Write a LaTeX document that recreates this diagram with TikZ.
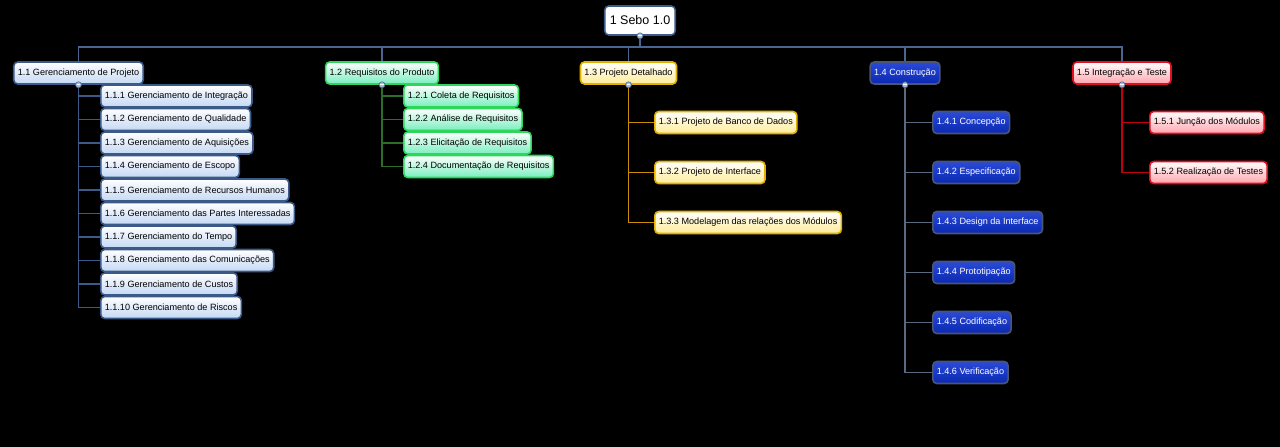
\documentclass[tikz,border=0pt]{standalone}
\usepackage{fontspec}
\setmainfont{Liberation Sans}
\usepackage{tikz}
\definecolor{busline}{HTML}{4A6590}
\definecolor{gborder}{HTML}{3C5A88}
\definecolor{gfill}{HTML}{C4D8F4}
\definecolor{rborder}{HTML}{2ED65A}
\definecolor{rfill}{HTML}{78EEBE}
\definecolor{rline}{HTML}{2A6E2A}
\definecolor{dborder}{HTML}{E2B000}
\definecolor{dfill}{HTML}{FFEC98}
\definecolor{dline}{HTML}{C89000}
\definecolor{cborder}{HTML}{4A5672}
\definecolor{ctop}{HTML}{2A4AD8}
\definecolor{cbottom}{HTML}{0A28B0}
\definecolor{cline}{HTML}{5A6A80}
\definecolor{tborder}{HTML}{E01020}
\definecolor{tfill}{HTML}{FFA6AE}
\definecolor{tline}{HTML}{C00010}
\definecolor{knobfill}{HTML}{A8BCD8}
\begin{document}
\begin{tikzpicture}[x=1pt,y=-1pt]
		\tikzstyle{every node}+=[inner sep=0pt, font=\fontsize{9.1}{11}\selectfont]
		\tikzstyle{box}=[draw, rounded corners=4pt, line width=1.6pt, minimum height=22pt, inner xsep=4pt]
		\tikzstyle{gestao}=[box, draw=gborder, top color=white, bottom color=gfill, text=black]
		\tikzstyle{requisito}=[box, draw=rborder, top color=white, bottom color=rfill, text=black]
		\tikzstyle{detalhe}=[box, draw=dborder, top color=white, bottom color=dfill, text=black]
		\tikzstyle{construcao}=[box, draw=cborder, top color=ctop, bottom color=cbottom, text=white]
		\tikzstyle{teste}=[box, draw=tborder, top color=white, bottom color=tfill, text=black]
		\tikzstyle{knob}=[circle, draw=busline, fill=knobfill, line width=0.6pt, minimum size=6pt,
			path picture={\draw[white, line width=0.8pt] ([xshift=-1.6pt]path picture bounding box.center) -- ([xshift=1.6pt]path picture bounding box.center);}]
		\fill [black] (0,0) rectangle (1280,447);
		\node [box, draw=gborder, fill=white, minimum height=29pt, inner xsep=5pt, font=\fontsize{12.5}{14}\selectfont] (raiz) at (640,20.5) {1 Sebo 1.0};
		\node [gestao] (g) at (78.5,73) {1.1 Gerenciamento de Projeto};
		\node [requisito] (r) at (382,73) {1.2 Requisitos do Produto};
		\node [detalhe] (d) at (628.5,73) {1.3 Projeto Detalhado};
		\node [construcao] (c) at (905,73) {1.4 Construção};
		\node [teste] (t) at (1122,73) {1.5 Integração e Teste};
		\node [gestao, anchor=west] (g1) at (100,96) {1.1.1 Gerenciamento de Integração};
		\node [gestao, anchor=west] (g2) at (100,119.5) {1.1.2 Gerenciamento de Qualidade};
		\node [gestao, anchor=west] (g3) at (100,143) {1.1.3 Gerenciamento de Aquisições};
		\node [gestao, anchor=west] (g4) at (100,166.5) {1.1.4 Gerenciamento de Escopo};
		\node [gestao, anchor=west] (g5) at (100,190) {1.1.5 Gerenciamento de Recursos Humanos};
		\node [gestao, anchor=west] (g6) at (100,213.5) {1.1.6 Gerenciamento das Partes Interessadas};
		\node [gestao, anchor=west] (g7) at (100,237) {1.1.7 Gerenciamento do Tempo};
		\node [gestao, anchor=west] (g8) at (100,260.5) {1.1.8 Gerenciamento das Comunicações};
		\node [gestao, anchor=west] (g9) at (100,284) {1.1.9 Gerenciamento de Custos};
		\node [gestao, anchor=west] (g10) at (100,307.5) {1.1.10 Gerenciamento de Riscos};
		\node [requisito, anchor=west] (r1) at (403,96) {1.2.1 Coleta de Requisitos};
		\node [requisito, anchor=west] (r2) at (403,119.5) {1.2.2 Análise de Requisitos};
		\node [requisito, anchor=west] (r3) at (403,143) {1.2.3 Elicitação de Requisitos};
		\node [requisito, anchor=west] (r4) at (403,166.5) {1.2.4 Documentação de Requisitos};
		\node [detalhe, anchor=west] (d1) at (654,122.5) {1.3.1 Projeto de Banco de Dados};
		\node [detalhe, anchor=west] (d2) at (654,172.5) {1.3.2 Projeto de Interface};
		\node [detalhe, anchor=west] (d3) at (654,222.5) {1.3.3 Modelagem das relações dos Módulos};
		\node [construcao, anchor=west] (c1) at (932,122.5) {1.4.1 Concepção};
		\node [construcao, anchor=west] (c2) at (932,172.5) {1.4.2 Especificação};
		\node [construcao, anchor=west] (c3) at (932,222.5) {1.4.3 Design da Interface};
		\node [construcao, anchor=west] (c4) at (932,272.5) {1.4.4 Prototipação};
		\node [construcao, anchor=west] (c5) at (932,322.5) {1.4.5 Codificação};
		\node [construcao, anchor=west] (c6) at (932,372.5) {1.4.6 Verificação};
		\node [teste, anchor=west] (t1) at (1149,122.5) {1.5.1 Junção dos Módulos};
		\node [teste, anchor=west] (t2) at (1149,172.5) {1.5.2 Realização de Testes};
		\coordinate (barra) at (640,47);
		\draw [busline, line width=1.6pt] (raiz.south) -- (barra);
		\draw [busline, line width=1.6pt] (g.north) |- (barra) -| (t.north);
		\draw [busline, line width=1.6pt] (r.north) -- (r.north |- barra);
		\draw [busline, line width=1.6pt] (d.north) -- (d.north |- barra);
		\draw [busline, line width=1.6pt] (c.north) -- (c.north |- barra);
		\draw [gborder, line width=1.6pt] (g.south) |- (g1.west);
		\draw [gborder, line width=1.6pt] (g.south) |- (g2.west);
		\draw [gborder, line width=1.6pt] (g.south) |- (g3.west);
		\draw [gborder, line width=1.6pt] (g.south) |- (g4.west);
		\draw [gborder, line width=1.6pt] (g.south) |- (g5.west);
		\draw [gborder, line width=1.6pt] (g.south) |- (g6.west);
		\draw [gborder, line width=1.6pt] (g.south) |- (g7.west);
		\draw [gborder, line width=1.6pt] (g.south) |- (g8.west);
		\draw [gborder, line width=1.6pt] (g.south) |- (g9.west);
		\draw [gborder, line width=1.6pt] (g.south) |- (g10.west);
		\draw [rline, line width=1.6pt] (r.south) |- (r1.west);
		\draw [rline, line width=1.6pt] (r.south) |- (r2.west);
		\draw [rline, line width=1.6pt] (r.south) |- (r3.west);
		\draw [rline, line width=1.6pt] (r.south) |- (r4.west);
		\draw [dline, line width=1.6pt] (d.south) |- (d1.west);
		\draw [dline, line width=1.6pt] (d.south) |- (d2.west);
		\draw [dline, line width=1.6pt] (d.south) |- (d3.west);
		\draw [cline, line width=1.6pt] (c.south) |- (c1.west);
		\draw [cline, line width=1.6pt] (c.south) |- (c2.west);
		\draw [cline, line width=1.6pt] (c.south) |- (c3.west);
		\draw [cline, line width=1.6pt] (c.south) |- (c4.west);
		\draw [cline, line width=1.6pt] (c.south) |- (c5.west);
		\draw [cline, line width=1.6pt] (c.south) |- (c6.west);
		\draw [tline, line width=1.6pt] (t.south) |- (t1.west);
		\draw [tline, line width=1.6pt] (t.south) |- (t2.west);
		\node [knob] (kraiz) at (raiz.south) {};
		\node [knob] (kg) at (g.south) {};
		\node [knob] (kr) at (r.south) {};
		\node [knob] (kd) at (d.south) {};
		\node [knob] (kc) at (c.south) {};
		\node [knob] (kt) at (t.south) {};
	\end{tikzpicture}
\end{document}
